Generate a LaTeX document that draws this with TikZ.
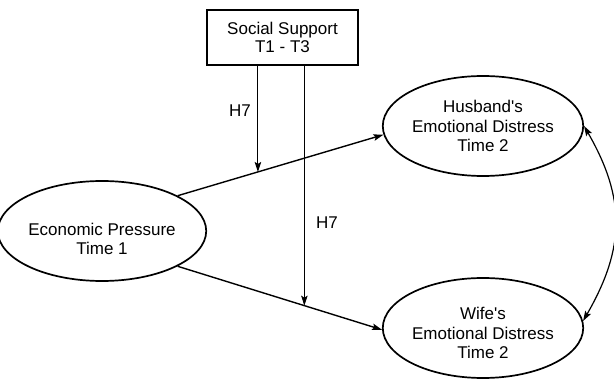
\documentclass[tikz,border=0pt]{standalone}
\usepackage{fontspec}
\setmainfont{Liberation Sans}[Ligatures=TeXOff]
\usetikzlibrary{positioning}
\usetikzlibrary{shapes.geometric}
\usetikzlibrary{arrows.meta}
\usetikzlibrary{calc}
\newcommand{\dgfont}{\fontsize{17}{19.5}\selectfont}
\tikzset{lat/.style={ellipse,draw,line width=1.7pt,inner sep=0pt,minimum width=188pt,minimum height=100pt,align=center,font=\dgfont}}
\tikzset{obs/.style={rectangle,draw,line width=1.7pt,inner sep=0pt,minimum width=151pt,minimum height=55pt,align=center,font=\fontsize{17}{18.5}\selectfont}}
\tikzset{hyp/.style={inner sep=1pt,font=\dgfont}}
\tikzset{pth/.style={line width=1.4pt}}
\tikzset{>={Stealth[length=10pt,width=6.5pt,inset=2pt]}}

\begin{document}
\begin{tikzpicture}[x=1pt,y=-1pt]
\useasboundingbox (0,0) rectangle (614,379);

\node[obs] (sup) at (282.5,37.5) {Social Support\\T1 - T3};
\node[lat] (eco) at (102,231) {\rule{0pt}{28pt}Economic Pressure\\Time 1};
\node[lat] (hus) at (483,126) {Husband's\\Emotional Distress\\Time 2};
\node[lat] (wife) at (483,328) {\rule{0pt}{22.5pt}Wife's\\Emotional Distress\\Time 2};

\draw[->,pth] (eco.25) -- coordinate[pos=0.39] (m1) (hus.185);
\draw[->,pth] (eco.-25) -- coordinate[pos=0.62] (m2) (wife.181);

\draw[->,line width=1pt] (sup.south -| m1) -- (m1);
\draw[->,line width=1pt] (sup.south -| m2) -- (m2);

\node[hyp] (h7a) at (240,111) {H7};
\node[hyp] (h7b) at (327,223) {H7};

\draw[<->,line width=1.2pt] (hus.0) to[out=-60,in=60,looseness=1.1] (wife.4);
\end{tikzpicture}
\end{document}
